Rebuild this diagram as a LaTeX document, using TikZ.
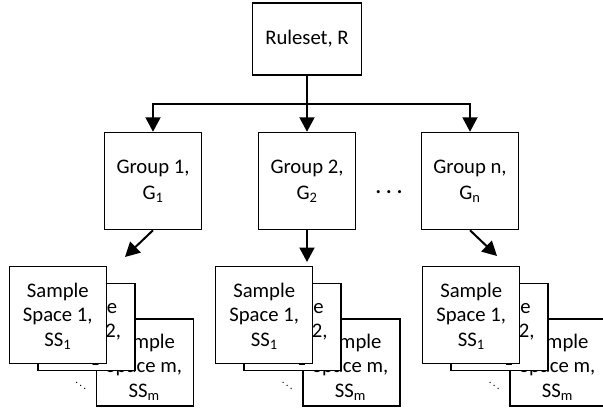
\documentclass[tikz,border=0pt]{standalone}
\usepackage{fontspec}
\setmainfont{Carlito}
\usetikzlibrary{arrows.meta}
\begin{document}
\begin{tikzpicture}[x=1pt,y=-1pt,
  box/.style={draw,line width=1.5pt,fill=white,minimum width=97pt,minimum height=97pt,inner sep=0pt,align=center,font=\fontsize{20.7}{26}\selectfont},
  sbox/.style={draw,line width=1.5pt,fill=white,minimum width=97pt,minimum height=87pt,inner sep=0pt},
  fbox/.style={sbox,minimum height=97pt},
  stext/.style={align=center,font=\fontsize{20.7}{24.5}\selectfont,inner sep=0pt},
  arr/.style={line width=2pt,-{Triangle[length=14.5pt,width=15pt]}}]
\useasboundingbox (0,0) rectangle (603,410);
\fill[white] (0,0) rectangle (603,410);

\node[box,minimum width=109pt,minimum height=72pt] (R) at (307,39) {Ruleset, R};
\node[box] (G1) at (153,181) {Group 1,\\G\textsubscript{1}};
\node[box] (G2) at (307,181) {Group 2,\\G\textsubscript{2}};
\node[box] (Gn) at (470,181) {Group n,\\G\textsubscript{n}};
\node[anchor=base,inner sep=0pt,font=\fontsize{20.7}{24}\selectfont\bfseries] (dots) at (389,193) {.\kern5pt.\kern5pt.};

\coordinate (j) at (307,104);
\draw[arr] (R.south) -- (G2.north);
\draw[arr] (j) -| (G1.north);
\draw[arr] (j) -| (Gn.north);

\coordinate (e1) at (125,257);
\coordinate (e2) at (307,262);
\coordinate (en) at (497,256);
\draw[arr] (G1.south) -- (e1);
\draw[arr] (G2.south) -- (e2);
\draw[arr] (Gn.south) -- (en);

\foreach \i/\x/\w in {1/57.8/97,2/264.2/97,3/471.2/105}{
  \node[sbox,minimum width=\w pt,anchor=west] (back\i) at (\x+37.8,362.5) {};
  \node[stext] (backt\i) at (\x+86.3,367) {Sample\\Space m,\\SS\textsubscript{m}};
  \node[inner sep=0pt,font=\fontsize{11}{11}\selectfont] (dd\i) at (\x+23,382.5) {$\ddots$};
  \node[sbox] (mid\i) at (\x+28.5,327) {};
  \node[stext] (midt\i) at (\x+28.5,332) {Sample\\Space 2,\\SS\textsubscript{2}};
  \node[fbox] (front\i) at (\x,315) {};
  \node[stext] (frontt\i) at (\x,316) {Sample\\Space 1,\\SS\textsubscript{1}};
}
\end{tikzpicture}
\end{document}
